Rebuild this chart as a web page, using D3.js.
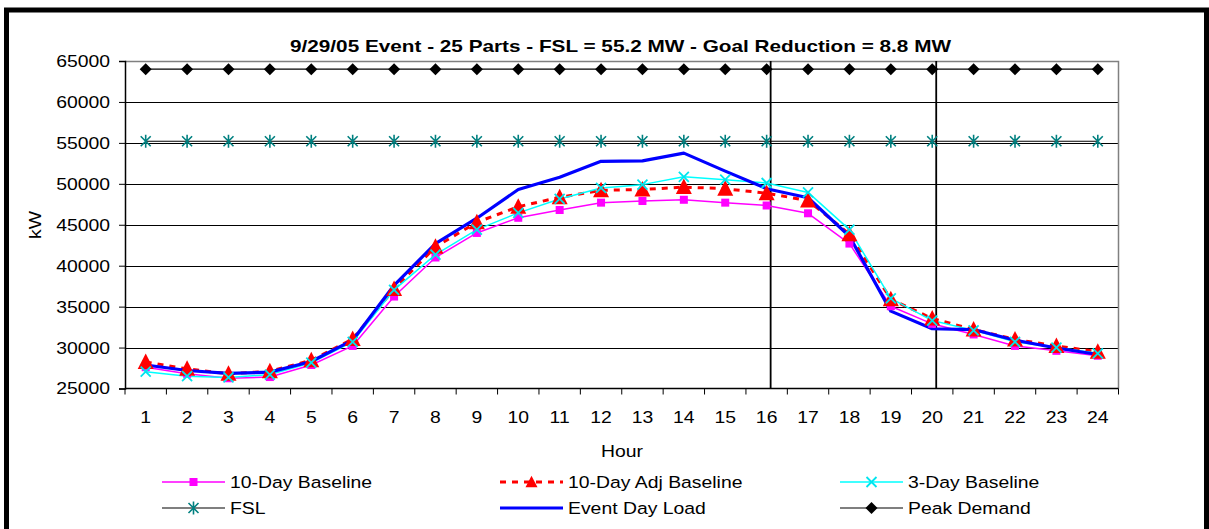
<!DOCTYPE html>
<html>
<head>
<meta charset="utf-8">
<script src="https://cdn.jsdelivr.net/npm/d3@7/dist/d3.min.js"></script>
<style>
  html, body { margin: 0; padding: 0; background: #fff; }
  svg { display: block; font-family: "Liberation Sans", Arial, sans-serif; }
</style>
</head>
<body>
<svg id="chart" width="1209" height="529"></svg>
<script>
// Hourly load profile for the 9/29/05 curtailment event
const hours = d3.range(1, 25);
const tenDayBaseline = [27600, 26800, 26250, 26400, 27870, 30200, 36230, 41000, 44000, 45850, 46800, 47700,
                        47900, 48050, 47700, 47350, 46400, 42700, 35050, 32900, 31600, 30200, 29600, 29000];
const tenDayAdjBaseline = [28250, 27400, 26800, 27100, 28450, 31050, 37150, 42300, 45300, 47200, 48350, 49200,
                           49300, 49600, 49400, 48850, 47950, 43850, 35900, 33550, 32200, 31000, 30200, 29500];
const threeDayBaseline = [27050, 26500, 26350, 26700, 28150, 30700, 37050, 41350, 44400, 46450, 48150, 49500,
                          49900, 50850, 50500, 50100, 48950, 44400, 36000, 33300, 32100, 30700, 30000, 29300];
const fsl = hours.map(() => 55200);
const eventDayLoad = [27870, 27200, 26850, 27000, 28300, 30900, 37600, 42700, 45800, 49300, 50800, 52750,
                      52800, 53750, 51550, 49400, 48300, 43600, 34450, 32300, 32200, 30900, 29950, 29150];
const peakDemand = hours.map(() => 64000);
const yTicks = [25000, 30000, 35000, 40000, 45000, 50000, 55000, 60000, 65000];
const eventWindow = [16, 20];

const title = "9/29/05 Event - 25 Parts - FSL = 55.2 MW - Goal Reduction = 8.8 MW";

const series = [
  { name: "10-Day Baseline", values: tenDayBaseline, line: "#FF00FF", width: 1.5, marker: "square", mColor: "#FF00FF" },
  { name: "10-Day Adj Baseline", values: tenDayAdjBaseline, line: "#FF0000", width: 3, dash: "6,6", marker: "triangle", mColor: "#FF0000" },
  { name: "3-Day Baseline", values: threeDayBaseline, line: "#00FFFF", width: 1.5, marker: "x", mColor: "#00E5EE" },
  { name: "FSL", values: fsl, line: "#000000", width: 1.2, marker: "star", mColor: "#008080" },
  { name: "Event Day Load", values: eventDayLoad, line: "#0000FF", width: 3.2, marker: null },
  { name: "Peak Demand", values: peakDemand, line: "#000000", width: 1.2, marker: "diamond", mColor: "#000000" }
];

const SX = 1.14;   // horizontal stretch of the chart lettering
const FS = 17;

const svg = d3.select("#chart");
const plot = { left: 125, right: 1118.5, top: 61, bottom: 388.5 };

const x = d3.scaleBand().domain(hours).range([plot.left, plot.right]);
const xc = h => x(h) + x.bandwidth() / 2;
const y = d3.scaleLinear().domain([25000, 65000]).range([plot.bottom, plot.top]);

// text placed at (tx, ty) with the wide lettering
function label(parent, tx, ty, str, anchor = "start") {
  return parent.append("text")
    .attr("transform", `translate(${tx},${ty}) scale(${SX},1)`)
    .attr("text-anchor", anchor)
    .attr("font-size", FS)
    .text(str);
}

// Outer chart frame
svg.append("rect")
  .attr("x", 6.5).attr("y", 10).attr("width", 1200).attr("height", 640)
  .attr("fill", "none").attr("stroke", "#000").attr("stroke-width", 5);

// Title
svg.append("text")
  .attr("x", 620.5).attr("y", 52)
  .attr("text-anchor", "middle")
  .attr("font-size", 17).attr("font-weight", "bold")
  .attr("textLength", 661).attr("lengthAdjust", "spacingAndGlyphs")
  .text(title);

// Horizontal gridlines
svg.append("g").selectAll("line")
  .data(yTicks.filter(v => v > 25000 && v < 65000))
  .join("line")
  .attr("x1", plot.left).attr("x2", plot.right)
  .attr("y1", d => Math.round(y(d)) + 0.5).attr("y2", d => Math.round(y(d)) + 0.5)
  .attr("stroke", "#000").attr("stroke-width", 1);

// Plot area border (top & right in gray)
svg.append("path")
  .attr("d", `M${plot.left},${plot.top + 0.5}H${plot.right}V${plot.bottom}`)
  .attr("fill", "none").attr("stroke", "#808080").attr("stroke-width", 1.5);

// Y axis
const yAxis = d3.axisLeft(y).tickValues(yTicks).tickSize(6).tickPadding(8).tickFormat(d3.format("d"));
const gy = svg.append("g").attr("transform", `translate(${plot.left},0)`).call(yAxis);
gy.select(".domain").attr("stroke", "#000").attr("stroke-width", 1.5);
gy.selectAll(".tick line").attr("stroke", "#000");
gy.selectAll(".tick text")
  .attr("font-size", FS).attr("font-family", "Liberation Sans, Arial, sans-serif").attr("fill", "#000")
  .attr("x", -15 / SX)
  .attr("transform", `scale(${SX},1)`);

// X axis: ticks between categories, labels centred on each hour
const gx = svg.append("g").attr("transform", `translate(0,${plot.bottom})`);
gx.append("line").attr("x1", plot.left).attr("x2", plot.right)
  .attr("stroke", "#000").attr("stroke-width", 1.5);
gx.selectAll("line.tick").data(d3.range(0, 25)).join("line")
  .attr("class", "tick")
  .attr("x1", i => plot.left + i * x.bandwidth()).attr("x2", i => plot.left + i * x.bandwidth())
  .attr("y1", 0).attr("y2", 6).attr("stroke", "#000").attr("stroke-width", 1);
hours.forEach(h => label(gx, xc(h), 34, h, "middle"));

// Axis titles
label(svg, 622, 457, "Hour", "middle");
svg.append("text").attr("transform", `translate(41,225) rotate(-90) scale(${SX},1)`)
  .attr("text-anchor", "middle").attr("font-size", FS).text("kW");

// Event window boundaries
svg.append("g").selectAll("line").data(eventWindow).join("line")
  .attr("x1", d => xc(d) + 4).attr("x2", d => xc(d) + 4)
  .attr("y1", plot.top).attr("y2", plot.bottom)
  .attr("stroke", "#000").attr("stroke-width", 1.8);

// Marker drawing
function drawMarker(g, type, color, cx, cy, scale = 1) {
  const s = scale;
  if (type === "square") {
    g.append("rect").attr("x", cx - 4 * s).attr("y", cy - 4 * s).attr("width", 8 * s).attr("height", 8 * s)
      .attr("fill", color);
  } else if (type === "triangle") {
    g.append("path").attr("d", `M${cx},${cy - 8.5 * s}L${cx + 8 * s},${cy + 7 * s}L${cx - 8 * s},${cy + 7 * s}Z`)
      .attr("fill", color);
  } else if (type === "x") {
    g.append("path").attr("d", `M${cx - 5 * s},${cy - 5 * s}L${cx + 5 * s},${cy + 5 * s}M${cx - 5 * s},${cy + 5 * s}L${cx + 5 * s},${cy - 5 * s}`)
      .attr("stroke", color).attr("stroke-width", 1.8).attr("fill", "none");
  } else if (type === "star") {
    g.append("path").attr("d", `M${cx - 5 * s},${cy - 5 * s}L${cx + 5 * s},${cy + 5 * s}M${cx - 5 * s},${cy + 5 * s}L${cx + 5 * s},${cy - 5 * s}M${cx},${cy - 6.5 * s}L${cx},${cy + 6.5 * s}`)
      .attr("stroke", color).attr("stroke-width", 1.6).attr("fill", "none");
  } else if (type === "diamond") {
    g.append("path").attr("d", `M${cx},${cy - 6 * s}L${cx + 6 * s},${cy}L${cx},${cy + 6 * s}L${cx - 6 * s},${cy}Z`)
      .attr("fill", color);
  }
}

const line = d3.line().x((d, i) => xc(hours[i])).y(d => y(d));

// Series lines
const linesG = svg.append("g");
series.forEach(s => {
  linesG.append("path").datum(s.values)
    .attr("d", line)
    .attr("fill", "none")
    .attr("stroke", s.line)
    .attr("stroke-width", s.width)
    .attr("stroke-dasharray", s.dash || null)
    .attr("stroke-linejoin", "round");
});

// Series markers
const markersG = svg.append("g");
series.forEach(s => {
  if (!s.marker) return;
  s.values.forEach((v, i) => drawMarker(markersG, s.marker, s.mColor, xc(hours[i]), y(v)));
});

// Legend
const legendCols = [162, 500, 840];
const legendRows = [482, 508];
const legendG = svg.append("g");
series.forEach((s, i) => {
  const lx = legendCols[i % 3], ly = legendRows[Math.floor(i / 3)];
  legendG.append("line").attr("x1", lx).attr("x2", lx + 63).attr("y1", ly).attr("y2", ly)
    .attr("stroke", s.line).attr("stroke-width", s.width).attr("stroke-dasharray", s.dash || null);
  if (s.marker) drawMarker(legendG, s.marker, s.mColor, lx + 31.5, ly, s.marker === "triangle" ? 0.75 : 1);
  label(legendG, lx + 68, ly + 6, s.name);
});
</script>
</body>
</html>
